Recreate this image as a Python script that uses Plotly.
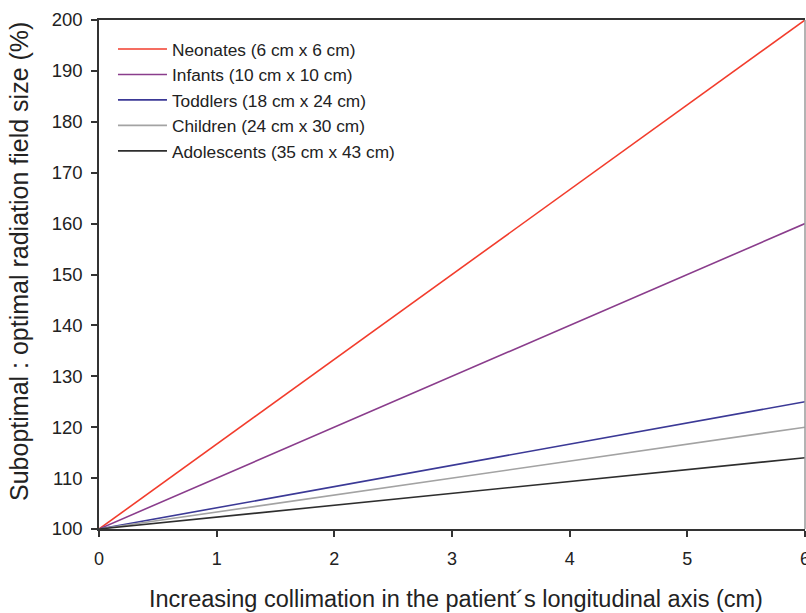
import plotly.graph_objects as go

collimation_cm = [0, 6]
series_names = [
    "Neonates (6 cm x 6 cm)",
    "Infants (10 cm x 10 cm)",
    "Toddlers (18 cm x 24 cm)",
    "Children (24 cm x 30 cm)",
    "Adolescents (35 cm x 43 cm)",
]
neonates = [100, 200]
infants = [100, 160]
toddlers = [100, 125]
children = [100, 120]
adolescents = [100, 114]

x_ticks = [0, 1, 2, 3, 4, 5, 6]
y_ticks = [100, 110, 120, 130, 140, 150, 160, 170, 180, 190, 200]

x_title = "Increasing collimation in the patient\u00b4s longitudinal axis (cm)"
y_title = "Suboptimal : optimal radiation field size (%)"

colors = ["#f23c2c", "#8a3d8c", "#3b3996", "#a3a3a3", "#2e2e2e"]
all_series = [neonates, infants, toddlers, children, adolescents]

FONT = "Liberation Sans, Arial, sans-serif"

fig = go.Figure()
for name, ys, c in zip(series_names, all_series, colors):
    fig.add_trace(go.Scatter(
        x=collimation_cm, y=ys, mode="lines", name=name,
        line=dict(color=c, width=1.6), cliponaxis=False,
    ))

fig.update_layout(
    width=806, height=613,
    margin=dict(l=99, r=1, t=20, b=84, autoexpand=False),
    plot_bgcolor="white", paper_bgcolor="white",
    font=dict(family=FONT, size=16, color="#222"),
    legend=dict(
        x=0.0198, y=0.978, xanchor="left", yanchor="top",
        bgcolor="rgba(0,0,0,0)", font=dict(family=FONT, size=17.3, color="#222"),
        tracegroupgap=0, itemwidth=49,
    ),
    showlegend=True,
    shapes=[dict(type="line", xref="paper", yref="paper", x0=1, x1=1, y0=0, y1=1,
                 line=dict(color="#9a9a9a", width=1.5))],
    annotations=[
        dict(text=x_title, xref="paper", yref="paper", x=0.506, y=0, yshift=-70,
             xanchor="center", yanchor="middle", showarrow=False,
             font=dict(family=FONT, size=23.5, color="#222")),
        dict(text=y_title, xref="paper", yref="paper", x=0, xshift=-80, y=0.5246,
             xanchor="center", yanchor="middle", textangle=-90, showarrow=False,
             font=dict(family=FONT, size=25, color="#222")),
    ],
)
fig.update_xaxes(
    range=[0, 6], tickvals=x_ticks, ticks="outside", ticklen=6, tickwidth=1.5,
    tickcolor="#333", showline=True, linecolor="#333", linewidth=1.5, mirror=True,
    showgrid=False, zeroline=False, ticklabeloverflow="allow", ticklabelstandoff=7,
    tickfont=dict(family=FONT, size=18, color="#222"),
)
fig.update_yaxes(
    range=[100, 200], tickvals=y_ticks, ticks="outside", ticklen=6, tickwidth=1.5,
    tickcolor="#333", showline=True, linecolor="#333", linewidth=1.5,
    showgrid=False, zeroline=False, ticklabeloverflow="allow", ticklabelstandoff=5,
    tickfont=dict(family=FONT, size=18.5, color="#222"),
)

fig.write_html(
    "out.html",
    config={"displayModeBar": False},
    post_script="document.body.style.margin='0';document.body.style.overflow='hidden';",
)
